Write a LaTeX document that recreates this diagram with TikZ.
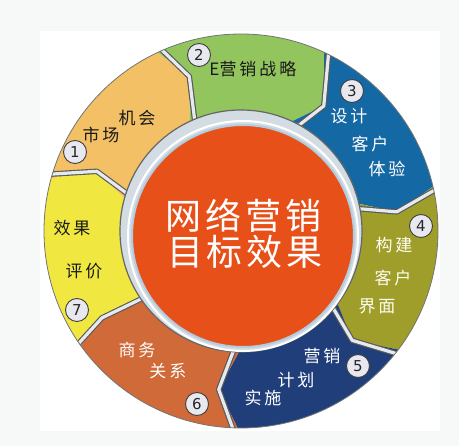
\documentclass[tikz,border=0pt]{standalone}
\usepackage{fontspec}
\setmainfont{DejaVu Sans}
\newfontfamily\cjk{Noto Sans CJK SC}
\definecolor{segA}{HTML}{F3C065}
\definecolor{segB}{HTML}{92C55E}
\definecolor{segC}{HTML}{1468A4}
\definecolor{segD}{HTML}{A09E2A}
\definecolor{segE}{HTML}{203F7A}
\definecolor{segF}{HTML}{D06A38}
\definecolor{segG}{HTML}{F0E840}
\definecolor{core}{HTML}{E8501A}
\definecolor{gapc}{HTML}{E6EAEE}
\definecolor{ringg}{HTML}{D3DCE3}
\definecolor{bgg}{HTML}{F7F8F8}
\definecolor{coreedge}{HTML}{B3CDE0}
\definecolor{numfill}{HTML}{E8E8F0}
\newcommand\ringseg[7]{\fill[#7] (#1:197) arc[start angle=#1,end angle=#4,radius=197] -- (#5:#6) -- (#4:121) arc[start angle=#4,end angle=#1,radius=121] -- (#2:#3) -- cycle;}
\newcommand\ringgap[3]{\draw[black!65,line width=5.5pt,line join=round] (#1:210) -- (#2:#3) -- (#1:105);
  \draw[gapc,line width=3.2pt,line join=round] (#1:210) -- (#2:#3) -- (#1:105);}
\newcommand\gsp{\hspace{3pt}}
\begin{document}
\begin{tikzpicture}[x=1pt,y=1pt,
  lab/.style={font=\cjk\fontsize{17}{17}\selectfont, inner sep=0pt},
  num/.style={circle, draw=black!75, fill=numfill, line width=0.9pt, minimum size=23pt, inner sep=0pt,
    font=\fontsize{15}{15}\selectfont, text=black!85},
  big/.style={font=\cjk\fontsize{36}{36}\selectfont, inner sep=0pt, text=white}]
\useasboundingbox (0,0) rectangle (459,-446);
\fill[bgg] (0,0) rectangle (459,-446);
\fill[white] (40,-31) rectangle (440,-431);
\begin{scope}[shift={(241,-231)}]
  \ringseg{164.5}{157.5}{156}{115}{108.5}{163}{segA}
  \ringseg{115}{108.5}{163}{65}{56.5}{150}{segB}
  \ringseg{65}{56.5}{150}{13}{7}{157}{segC}
  \ringseg{13}{7}{157}{-37}{-44.5}{156}{segD}
  \ringseg{-37}{-44.5}{156}{-91}{-98}{160}{segE}
  \ringseg{-91}{-98}{160}{-144.5}{-148}{164}{segF}
  \ringseg{-144.5}{-148}{164}{-195.5}{-202.5}{156}{segG}
  \begin{scope}
    \clip (0,0) circle[radius=197];
    \ringgap{115}{108.5}{163}
    \ringgap{65}{56.5}{150}
    \ringgap{13}{7}{157}
    \ringgap{-37}{-44.5}{156}
    \ringgap{-91}{-98}{160}
    \ringgap{-144.5}{-148}{164}
    \ringgap{164.5}{157.5}{156}
  \end{scope}
  \draw[black!55,line width=0.8pt] (0,0) circle[radius=197];
  \fill[ringg] (0,0) circle[radius=121];
  \draw[black!60,line width=1.2pt] (0,0) circle[radius=121];
  \draw[white,line width=2pt] (2,-5) circle[radius=115];
  \fill[core] (2,-5) circle[radius=111];
  \draw[coreedge,line width=2pt] (2,-5) circle[radius=111];
\end{scope}
% center text
\node[big] (t1) at (243.5,-216) {网\hspace{4pt}络\hspace{4pt}营\hspace{4pt}销};
\node[big] (t2) at (245,-252) {目\hspace{4pt}标\hspace{4pt}效\hspace{4pt}果};
% segment 1
\node[lab,text=black!90] (s1a) at (101,-135) {市\gsp 场};
\node[lab,text=black!90] (s1b) at (137,-118) {机\gsp 会};
\node[num] (n1) at (75,-152) {1};
% segment 2
\node[num] (n2) at (199,-55) {2};
\node[lab,text=black!90] (s2a) at (253,-69) {E营\gsp 销\gsp 战\gsp 略};
% segment 3
\node[num] (n3) at (352,-91) {3};
\node[lab,text=white] (s3a) at (349,-116) {设\gsp 计};
\node[lab,text=white] (s3b) at (370,-144) {客\gsp 户};
\node[lab,text=white] (s3c) at (387,-169) {体\gsp 验};
% segment 4
\node[num] (n4) at (421,-226) {4};
\node[lab,text=white!95!yellow] (s4a) at (394,-245) {构\gsp 建};
\node[lab,text=white!95!yellow] (s4b) at (393,-278) {客\gsp 户};
\node[lab,text=white!95!yellow] (s4c) at (377,-306) {界\gsp 面};
% segment 5
\node[num] (n5) at (358,-366) {5};
\node[lab,text=white] (s5a) at (322,-356) {营\gsp 销};
\node[lab,text=white] (s5b) at (296,-380) {计\gsp 划};
\node[lab,text=white] (s5c) at (263,-398) {实\gsp 施};
% segment 6
\node[num] (n6) at (197,-404) {6};
\node[lab,text=white] (s6a) at (137,-350) {商\gsp 务};
\node[lab,text=white] (s6b) at (168,-371) {关\gsp 系};
% segment 7
\node[num] (n7) at (77,-310) {7};
\node[lab,text=black!90] (s7a) at (72,-228) {效\gsp 果};
\node[lab,text=black!90] (s7b) at (84,-271) {评\gsp 价};
\end{tikzpicture}
\end{document}
